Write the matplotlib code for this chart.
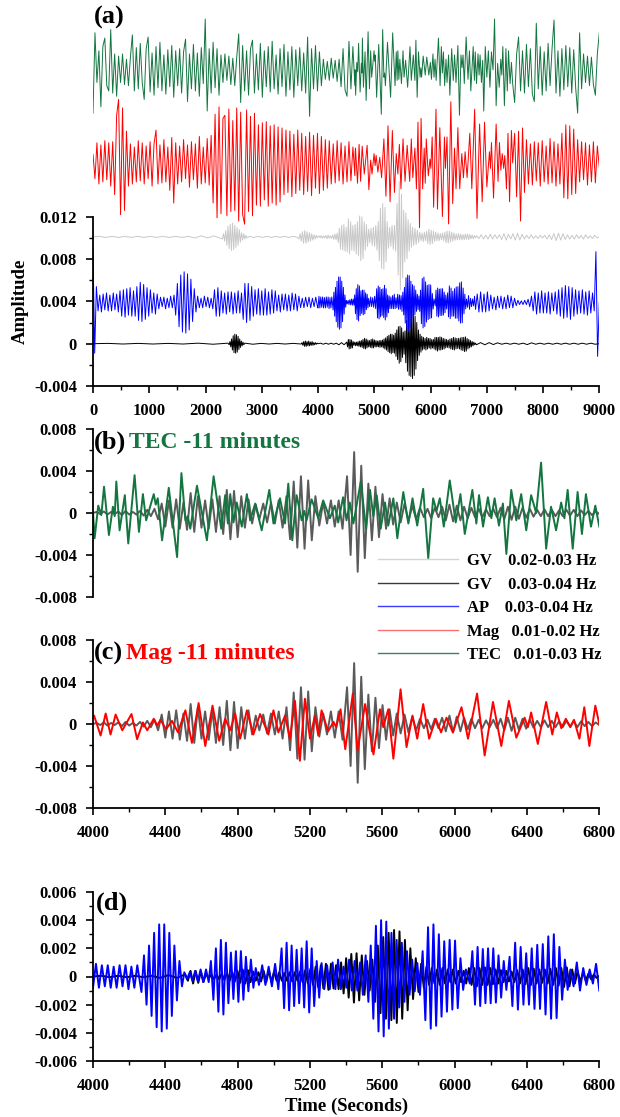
import numpy as np
import matplotlib
matplotlib.use("Agg")
import matplotlib.pyplot as plt
from matplotlib.ticker import MultipleLocator, FixedLocator, FuncFormatter
from matplotlib.lines import Line2D

plt.rcParams['font.family'] = ['Liberation Serif', 'DejaVu Serif']
plt.rcParams['font.weight'] = 'bold'

# ---------------------------------------------------------------- data (units of 1e-3)
# (t, value) extremes, panel (b): TEC shifted -11 minutes
TEC_B = [(4000, 0.0), (4009, -2.4), (4029, 0.7), (4046, -0.2), (4061, 2.5), (4088, -2.1), (4110, 0.6),
         (4120, -0.3), (4129, 3.0), (4147, -1.65), (4176, 1.7), (4195, -2.9), (4230, 3.6), (4254, -1.8),
         (4276, 1.8), (4294, -0.7), (4336, 1.8), (4347, 0.8), (4358, 1.4), (4382, -2.6), (4419, 2.4),
         (4465, -4.2), (4489, 3.8), (4511, -0.7), (4524, -0.3), (4538, -1.5), (4575, 2.6), (4630, -2.6),
         (4667, 3.5), (4709, -1.5), (4731, 1.7), (4746, -1.0), (4759, 1.8), (4777, -0.9), (4795, 1.0),
         (4823, -1.3), (4851, 1.8), (4869, -0.7), (4897, 0.9), (4933, -1.65), (4975, 2.2), (4998, -1.0),
         (5034, 1.4), (5062, -1.0), (5080, 2.8), (5102, -2.6), (5126, 1.7), (5154, -0.7), (5168, 0.2),
         (5181, -0.7), (5209, 1.3), (5246, -0.5), (5273, 1.2), (5310, -0.5), (5337, 0.7), (5356, -0.9),
         (5383, 1.5), (5402, -0.7), (5420, 1.0), (5440, -1.0), (5481, 3.0), (5510, -1.5), (5532, 2.2),
         (5550, -0.3), (5569, 1.7), (5591, -1.5), (5615, 1.0), (5633, -1.2), (5661, 1.4), (5683, -2.4),
         (5716, 2.0), (5744, -1.0), (5767, 1.4), (5793, -1.2), (5826, 2.3), (5854, -4.3), (5881, 1.4),
         (5900, 0.2), (5918, 1.4), (5940, -1.3), (5973, 3.1), (6006, -0.9), (6032, 1.8), (6056, -2.0),
         (6098, 2.2), (6120, -1.0), (6135, 1.7), (6157, -1.3), (6184, 1.5), (6203, -0.5), (6221, 1.4),
         (6245, -1.2), (6267, 0.9), (6286, -3.9), (6313, 2.2), (6341, -0.7), (6368, 1.8), (6396, -1.65),
         (6423, 1.7), (6451, 0.0), (6478, 4.8), (6506, -3.4), (6533, 0.6), (6561, -1.65), (6589, 1.0),
         (6607, -0.5), (6625, 2.2), (6653, -3.4), (6680, 2.0), (6704, -2.0), (6726, 1.8), (6754, -1.3),
         (6778, 0.7), (6800, -1.3)]

# panel (c): Mag shifted -11 minutes
MAG_C = [(4000, 0.6), (4006, 0.8), (4042, -1.1), (4070, 1.0), (4097, -1.0), (4125, 0.9), (4162, -0.6),
         (4213, 0.95), (4244, -1.45), (4276, 0.15), (4300, -0.6), (4336, 0.5), (4355, -0.15), (4373, 0.4),
         (4404, -0.5), (4437, 0.3), (4470, -0.8), (4511, 1.3), (4547, -1.8), (4584, 2.0), (4621, -2.1),
         (4661, 1.75), (4698, -1.6), (4731, 0.5), (4759, -0.6), (4786, 1.0), (4814, -1.4), (4851, 1.3),
         (4887, -1.0), (4924, 0.95), (4970, -1.0), (4998, 1.3), (5025, -0.8), (5062, 0.8), (5089, -1.4),
         (5117, 2.2), (5144, -3.5), (5172, 2.4), (5200, -1.4), (5227, 0.8), (5246, -1.1), (5264, 1.3),
         (5300, -0.7), (5330, 0.2), (5345, -0.3), (5369, 1.4), (5395, -2.4), (5437, 2.9), (5463, -2.5),
         (5505, 1.9), (5551, -2.9), (5587, 1.4), (5605, -0.3), (5633, 1.4), (5661, -3.3), (5701, 3.3),
         (5734, -2.2), (5767, 0.8), (5793, -1.4), (5826, 1.9), (5859, -1.4), (5896, 0.5), (5925, -0.8),
         (5955, 0.6), (5990, -0.8), (6038, 1.6), (6074, -1.4), (6124, 2.9), (6166, -3.0), (6212, 2.1),
         (6258, -2.1), (6300, 2.2), (6341, -1.3), (6387, 0.6), (6405, -0.3), (6423, 1.1), (6460, -1.9),
         (6506, 2.1), (6540, -1.0), (6565, 1.1), (6590, -0.4), (6615, 0.5), (6640, -0.3), (6660, 0.4),
         (6690, -1.4), (6717, 1.6), (6745, -2.1), (6778, 1.75), (6800, 0.0)]

# GV 0.02-0.03 Hz, 4000-6800 s: (start, end, evenly spaced extremes)
GV02_SEGS = [
    (4000, 4340, [0.0, 0.1, -0.1, 0.15, -0.15, 0.1, -0.1, 0.15, -0.2, 0.2, -0.15, 0.1, -0.15, 0.2, -0.25, 0.3, -0.3, 0.4]),
    (4360, 4500, [-0.6, 0.9, -1.3, 1.2, -1.4, 1.3, -1.5, 1.0]),
    (4520, 4700, [-1.6, 1.9, -1.8, 1.6, -1.4, 1.2, -1.5, 1.3, -1.8, 1.6]),
    (4720, 4900, [-2.0, 2.2, -2.5, 2.1, -2.3, 1.6, -1.4, 1.3, -1.0, 0.8]),
    (4920, 5070, [-0.6, 0.9, -0.9, 1.0, -1.0, 1.2, -1.4, 1.6]),
    (5090, 5210, [-2.5, 3.0, -3.3, 3.5, -3.4, 3.1, -2.6]),
    (5230, 5380, [1.6, -1.2, 1.0, -1.0, 1.2, -1.3, 1.2, -1.5]),
    (5405, 5660, [3.5, -4.0, 5.8, -5.6, 4.5, -4.3, 2.8, -2.6, 2.5, -2.3, 1.8, -1.5, 1.4, -1.1]),
    (5680, 5830, [1.0, -0.9, 0.9, -0.8, 0.7, -0.6, 0.5, -0.4]),
    (5850, 6800, [0.4, -0.5, 0.5, -0.4, 0.6, -0.7, 0.8, -0.8, 0.7, -0.7, 0.6, -0.5, 0.5, -0.4, 0.4, -0.4,
                  0.35, -0.3, 0.4, -0.4, 0.5, -0.6, 0.6, -0.65, 0.6, -0.55, 0.5, -0.45, 0.4, -0.35, 0.3, -0.3,
                  0.35, -0.3, 0.3, -0.3, 0.25, -0.3, 0.3, -0.25, 0.3, -0.3, 0.25, -0.2, 0.2, -0.2, 0.15, -0.1]),
]

# GV 0.03-0.04 Hz, 4000-6800 s
GV03_SEGS = [
    (4000, 4510, [0.0, 0.05, -0.05, 0.05, -0.05, 0.05, -0.05, 0.05, -0.1, 0.1, -0.1, 0.15]),
    (4525, 4625, [-0.3, 0.4, -0.5, 0.4, -0.45, 0.35, -0.4, 0.2]),
    (4640, 4900, [-0.15, 0.15, -0.2, 0.15, -0.2, 0.2, -0.25, 0.25, -0.3, 0.3, -0.35, 0.4, -0.45, 0.5, -0.5, 0.45, -0.4, 0.35, -0.3]),
    (4915, 5260, [0.3, -0.35, 0.4, -0.4, 0.45, -0.4, 0.35, -0.3, 0.3, -0.3, 0.25, -0.3, 0.3, -0.35, 0.3, -0.3, 0.35, -0.4,
                  0.45, -0.5, 0.55, -0.6, 0.7, -0.75, 0.8]),
    (5274, 5400, [-0.85, 0.9, -0.95, 0.9, -0.85, 0.8, -0.9, 1.0, -1.2, 1.3]),
    (5414, 5530, [-1.5, 1.6, -1.85, 1.65, -1.7, 1.5, -1.3, 1.1, -1.0]),
    (5545, 5800, [1.2, -1.8, 2.2, -2.6, 2.8, -3.0, 3.1, -3.1, 3.3, -3.3, 3.2, -3.0, 2.6, -2.4, 2.0, -1.6, 1.3, -1.1]),
    (5815, 6050, [0.9, -0.8, 0.7, -0.6, 0.6, -0.5, 0.5, -0.6, 0.6, -0.5, 0.5, -0.4, 0.5, -0.5, 0.4, -0.4, 0.4]),
    (6064, 6300, [-0.5, 0.6, -0.6, 0.6, -0.7, 0.6, -0.6, 0.65, -0.6, 0.6, -0.55, 0.5, -0.5, 0.45, -0.4, 0.4, -0.35]),
    (6315, 6560, [0.35, -0.4, 0.45, -0.5, 0.5, -0.55, 0.6, -0.6, 0.55, -0.5, 0.5, -0.45, 0.5, -0.5, 0.55, -0.6, 0.6]),
    (6575, 6800, [-0.65, 0.6, -0.75, 0.65, -0.7, 0.5, -0.5, 0.4, -0.4, 0.3, -0.3, 0.2, -0.2, 0.15, -0.1, 0.05]),
]

# AP 0.03-0.04 Hz, 4000-6800 s
AP_SEGS = [
    (4000, 4245, [-0.8, 0.9, -0.8, 0.8, -0.7, 0.8, -0.8, 0.7, -0.8, 0.8, -0.7, 0.8, -0.9, 0.7, -0.8, 0.8]),
    (4268, 4492, [-1.1, 1.5, -2.0, 2.2, -2.8, 3.1, -3.6, 3.7, -3.9, 3.7, -3.7, 3.1, -2.8, 2.2, -1.7, 1.1, -0.7]),
    (4505, 4640, [0.3, -0.2, 0.3, -0.3, 0.4, -0.35, 0.5, -0.4, 0.5, -0.4]),
    (4652, 4887, [1.1, -1.65, 2.0, -2.5, 2.6, -2.7, 2.4, -1.9, 1.7, -1.6, 1.8, -1.8, 1.8, -1.65, 1.4, -1.05, 1.2, -0.8]),
    (4900, 5025, [0.6, -0.6, 0.8, -0.6, 0.7, -0.7, 0.9, -0.9]),
    (5043, 5251, [2.0, -2.25, 2.4, -2.4, 2.2, -2.1, 1.9, -1.9, 2.0, -2.2, 2.5, -2.55, 2.0, -2.1, 1.1, -1.5]),
    (5264, 5523, [0.95, -0.9, 0.8, -0.9, 1.0, -0.9, 1.2, -0.9, 0.7, -0.8, 1.2, -1.0, 1.1, -1.0, 1.0, -1.3, 1.5, -1.8]),
    (5536, 5808, [2.2, -3.0, 3.6, -3.9, 4.0, -4.25, 3.9, -3.7, 3.1, -3.0, 2.6, -2.2, 2.4, -1.8, 1.8, -1.3, 1.2, -1.05, 0.95, -1.3]),
    (5823, 6047, [1.8, -3.1, 3.5, -3.7, 3.7, -3.5, 3.0, -2.85, 2.5, -2.5, 2.6, -2.35, 2.55, -2.25, 1.3, -0.95]),
    (6062, 6084, [0.5, -0.5]),
    (6098, 6286, [1.8, -2.0, 2.1, -2.1, 1.95, -1.9, 2.0, -1.9, 2.0, -1.85, 1.5, -1.5, 1.1, -0.95]),
    (6304, 6625, [1.4, -2.1, 2.4, -2.35, 2.1, -2.0, 1.65, -2.0, 2.0, -2.3, 2.25, -2.3, 2.3, -2.7, 2.85, -3.0, 3.0, -2.95,
                  2.1, -1.65, 1.2, -0.95]),
    (6640, 6800, [0.5, -0.7, 1.0, -1.0, 0.6, -0.6, 0.5, -0.5, 0.9, -1.0]),
]

# panel (a) only: parts of the traces outside 4000-6800 s (already in panel-(a) units)
TEC_A_PRE = [-4.1, 3.5, -1.2, 1.8, -3.5, 2.2, 3.0, -1.5, -2.0, 3.8,
             -2.2, 1.5, -2.5, 1.3, -1.2, 1.5, -1.4, 1.0, -1.5, 1.2,
             3.3, -2.0, 2.1, -1.8, 2.5, -1.2, -2.8, 2.0, 3.1, -2.1,
             1.6, -2.4, 2.2, -1.7, 2.6, -2.0, 1.4, -2.3, 1.9, -1.6,
             2.3, -2.6, 1.8, -1.5, 2.0, -2.2, 1.7, 2.9, -3.0, 1.5,
             -1.8, 2.4, -2.0, 1.6, -2.5, 2.1, -1.3, 4.8, -3.9, 2.0,
             -2.2, 2.6, -1.7, 2.0, -2.4, 1.4, -1.2, 1.5, -1.0, 1.3,
             -1.4, 1.1, -1.5, 1.2, 3.4, -3.1, 2.3, -2.0, 1.8, -2.4,
             2.0, 2.8, -2.2, 1.5, -1.9, 2.5, -2.6, 1.8, -1.6, 2.2,
             -2.1, 2.7, -1.8, 1.4, -2.3, 2.0, -1.6, 2.4, -2.5, 1.7,
             -1.9, 2.2, -2.6, 1.9, -1.5, 2.1, -2.0, 1.6, -2.2, 3.1,
             -4.4, 2.0, -1.8, 2.3, -2.0, 1.7, -1.5, 1.0, -0.9, 0.8,
             -1.0, 1.1, -0.8, 0.9, -1.1, 1.0, -1.6, 2.0, -1.9, -2.5,
             2.7, -1.8, 2.2, -1.5]
TEC_A_POST = [-3.1, 1.5, 3.1, -2.0, 1.8, -2.2, 2.4, -1.6, 2.0, -2.3,
              -3.0, 4.4, -1.8, 2.2, -2.4, 1.7, -2.0, 2.5, -1.5, 2.0,
              4.7, -2.2, 1.8, -2.5, 2.0, -1.9, 2.3, -1.6, 2.1, -2.2,
              1.9, -1.7, -4.1, 3.5, -1.8, 1.5, -1.2, 1.3, -1.5, 1.2,
              -1.4, -2.4, 1.5, 3.5]
MAG_A_PRE = [0.8, -1.5, 1.9, -2.0, 1.7, -1.8, 2.1, -1.6, 1.9, -2.2,
             2.0, -3.0, 4.5, 6.0, -4.9, 5.2, -4.5, 3.0, -2.2, 1.8,
             -2.0, 1.5, -1.8, 2.1, -1.7, 1.9, -2.0, 1.6, -1.5, 2.0,
             -2.2, 1.8, 3.1, -2.0, 1.7, -1.9, 2.2, -1.8, 1.5, -2.6,
             2.4, -3.8, 1.9, -2.0, 1.6, -1.8, 2.2, -1.5, 1.7, -2.3,
             2.0, -1.6, 1.8, -2.4, 2.5, -2.0, 1.5, -1.9, 2.3, -2.1,
             2.6, -3.8, 4.6, -5.2, 5.3, -4.8, 4.2, 4.5, -5.0, 5.1,
             -4.6, 4.0, -4.5, 5.2, -5.5, 4.8, -4.9, -5.8, 5.0, -4.6,
             4.4, -5.0, 4.7, -4.0, 3.6, -4.1, 3.8, -3.5, 3.9, -4.1,
             3.5, -3.8, 3.6, -4.0, 3.4, -3.7, 3.3, -3.0, 3.1, -2.8,
             3.0, -3.2, 2.7, -2.9, 3.1, -2.6, 2.8, -3.0, 2.5, -2.7,
             2.9, -3.1, 2.6, -2.4, 2.8, -2.9, 2.5, -2.6, 2.2, -2.4,
             2.1, -2.0, 1.8, -1.9, 2.1, -1.7, 1.9, -2.0, 1.6, -1.8,
             2.0, -1.7, 1.5, -1.2]
MAG_A_POST = [2.8, -3.2, 3.0, -5.5, 3.3, -2.8, 2.2, -2.0, 1.8, -2.1,
              2.0, -1.7, 1.9, -2.2, 2.1, -1.8, 1.6, -2.0, 2.3, -1.9,
              2.0, -2.2, 1.8, -2.0, 2.8, -3.3, 3.6, -3.4, 3.5, -3.0,
              3.2, -2.9, 2.2, -1.8, 2.0, -1.6, 1.9, -2.1, 1.7, -1.8,
              2.0, -1.9, 1.6, -0.4]
GV02_A_PRE = [
    (0, 2150, [0.0, 0.05, -0.05, 0.05, -0.05, 0.05, -0.05, 0.05, -0.05, 0.05, -0.05, 0.05, -0.05, 0.05, -0.05, 0.05, -0.1, 0.1, -0.1, 0.1]),
    (2300, 2740, [-0.2, 0.3, -0.4, 0.6, -0.8, 1.0, -1.1, 1.2, -1.3, 1.3, -1.2, 1.1, -1.0, 0.9, -0.8, 0.7, -0.5, 0.4, -0.3, 0.3, -0.2, 0.15, -0.1]),
    (2780, 3640, [0.05, -0.05, 0.05, -0.05, 0.05, -0.05, 0.05, -0.05, 0.05, -0.05, 0.05, -0.05]),
    (3660, 3990, [-0.2, 0.3, -0.4, 0.5, -0.6, 0.6, -0.6, 0.5, -0.5, 0.4, -0.4, 0.3, -0.3, 0.2, -0.2, 0.15, -0.1]),
]
GV02_A_POST = [(6820, 9000, [0.1, -0.15, 0.2, -0.2, 0.15, -0.2, 0.25, -0.2, 0.2, -0.15, 0.2, -0.25, 0.3, -0.3, 0.25, -0.2,
                             0.3, -0.3, 0.35, -0.3, 0.25, -0.2, 0.15, -0.15, 0.2, -0.15, 0.1, -0.15, 0.15, -0.1, 0.15,
                             -0.2, 0.2, -0.25, 0.3, -0.35, 0.35, -0.3, 0.3, -0.25, 0.2, -0.2, 0.15, -0.2, 0.2, -0.15,
                             0.15, -0.2, 0.2, -0.15, 0.1, -0.15, 0.15, -0.1, 0.0])]
GV03_A_PRE = [
    (0, 2400, [0.0, 0.03, -0.03, 0.03, -0.03, 0.03, -0.03, 0.05, -0.05, 0.05]),
    (2420, 2680, [-0.1, 0.2, -0.3, 0.45, -0.6, 0.75, -0.85, 0.9, -0.9, 0.85, -0.8, 0.7, -0.55, 0.45, -0.35, 0.25, -0.2, 0.15, -0.1]),
    (2700, 3700, [0.05, -0.05, 0.03, -0.03, 0.03, -0.03, 0.03, -0.03]),
    (3715, 3985, [0.1, -0.15, 0.2, -0.25, 0.25, -0.25, 0.2, -0.2, 0.25, -0.2, 0.15, -0.15, 0.2, -0.15, 0.1, -0.1, 0.1, -0.05, 0.05]),
]
GV03_A_POST = [(6815, 9000, [-0.1, 0.1, -0.1, 0.1, -0.08, 0.08, -0.05, 0.05, -0.05, 0.05, -0.05, 0.05, -0.08, 0.08, -0.05,
                             0.05, -0.05, 0.05, -0.05, 0.05, -0.05, 0.05, -0.05, 0.05, -0.05, 0.05, -0.05, 0.05, -0.05, 0.0])]
AP_A_PRE = [5.0, -4.8, 1.5,
            -0.8, 0.7, -0.9, 0.8, -0.7, 0.9, -0.8, 0.7, -0.8, 0.9, -0.7, 0.8, -0.9,
            1.1, -1.3, 1.2, -1.4, 1.3, -1.2, 1.4, -1.3, 1.1,
            -1.3, 1.5, -1.7, 1.9, -1.8, 1.7, -1.6, 1.4, -1.3, 1.2,
            -1.0, 0.9, -1.1, 0.8,
            -0.6, 0.5, -0.4, 0.5, -0.6, 0.4, -0.5, 0.6, -0.5, 0.7,
            -1.2, 1.8, -2.3, 2.6, -2.8, 2.9, -2.9, 2.7, -2.6, 2.2, -1.8, 1.3, -0.9, 0.6,
            -0.5, 0.4, -0.5, 0.6, -0.4, 0.5, -0.5, 0.4, -0.6,
            1.2, -1.3, 1.4, -1.3, 1.1,
            -1.0, 0.9, -1.1, 1.0, -0.9, 1.0, -1.1, 0.9, -1.0, 1.1, -1.0, 0.9,
            -1.6, 1.8, -1.9, 1.8, -1.7, 1.5, -1.3,
            1.2, -1.1, 1.3, -1.2, 1.1, -1.2, 1.3, -1.2, 1.0, -1.1, 1.2, -1.0, 1.1,
            -0.8, 0.7, -0.9, 0.8, -0.7, 0.8, -0.8, 0.7, -0.8, 0.9, -0.7, 0.8, -0.8, 0.6,
            -0.5, 0.4, -0.5, 0.5, -0.4, 0.5, -0.5, 0.4, -0.4, 0.5, -0.4]
AP_A_POST = [0.8, -0.9, 1.0, -0.9, 0.8, -0.9, 1.0, -0.8, 0.7,
             -0.6, 0.5, -0.7, 0.6, -0.5, 0.6, -0.6, 0.5, -0.6, 0.7, -0.5, 0.6, -0.5, 0.4,
             -0.3, 0.2, -0.2, 0.15, -0.2, 0.2, -0.2, 0.3, -0.4,
             0.6, -0.8, 1.0, -1.1, 0.9, -1.0, 1.1, -1.0, 0.9, -1.0, 1.0, -1.1, 0.9, -0.8, 1.0, -1.1, 1.2, -1.3,
             1.4, -1.5, 1.6, -1.4, 1.5, -1.6, 1.4, -1.3, 1.2, -1.1,
             1.1, -1.0, 1.2, -1.1, 1.0, -1.2, 1.1, -1.0, 0.9,
             -0.8, 4.8, -5.1, 0.0]

# panel (a) stacking offsets / gains (1e-3)
OFFSET_A = {'TEC': 25.9, 'Mag': 17.1, 'GV02': 10.1, 'AP': 3.9, 'GV03': 0.0}
GAIN_A = {'TEC': 1.0, 'Mag': 1.75, 'GV02': 0.9, 'AP': 0.65, 'GV03': 1.0}
SHIFT_S = 660  # 11 minutes

LEGEND_LABELS = ["GV    0.02-0.03 Hz", "GV    0.03-0.04 Hz", "AP    0.03-0.04 Hz",
                 "Mag   0.01-0.02 Hz", "TEC   0.01-0.03 Hz"]

# ---------------------------------------------------------------- helpers
def build(segs):
    ts = [np.linspace(a, b, len(v)) for a, b, v in segs]
    vs = [np.asarray(v, float) for a, b, v in segs]
    return np.concatenate(ts), np.concatenate(vs)

def from_pairs(p):
    a = np.asarray(p, float)
    return a[:, 0], a[:, 1]

def even(t0, t1, vals):
    return np.linspace(t0, t1, len(vals)), np.asarray(vals, float)

tec_t, tec_v = from_pairs(TEC_B)
mag_t, mag_v = from_pairs(MAG_C)
gv02_t, gv02_v = build(GV02_SEGS)
gv03_t, gv03_v = build(GV03_SEGS)
ap_t, ap_v = build(AP_SEGS)

# full-length traces for panel (a)
t1, v1 = even(0, 4655, TEC_A_PRE)
t3, v3 = even(7495, 9000, TEC_A_POST)
tecA_t = np.concatenate([t1, tec_t + SHIFT_S, t3])
tecA_v = np.concatenate([v1, tec_v * GAIN_A['TEC'], v3])
t1, v1 = even(0, 4655, MAG_A_PRE)
t3, v3 = even(7495, 9000, MAG_A_POST)
magA_t = np.concatenate([t1, mag_t + SHIFT_S, t3])
magA_v = np.concatenate([v1, mag_v * GAIN_A['Mag'], v3])
t1, v1 = build(GV02_A_PRE)
t3, v3 = build(GV02_A_POST)
gv02A_t = np.concatenate([t1, gv02_t, t3])
gv02A_v = np.concatenate([v1, gv02_v * GAIN_A['GV02'], v3])
t1, v1 = build(GV03_A_PRE)
t3, v3 = build(GV03_A_POST)
gv03A_t = np.concatenate([t1, gv03_t, t3])
gv03A_v = np.concatenate([v1, gv03_v * GAIN_A['GV03'], v3])
t1, v1 = even(0, 3990, AP_A_PRE)
t3, v3 = even(6830, 9000, AP_A_POST)
apA_t = np.concatenate([t1, ap_t, t3])
apA_v = np.concatenate([v1, ap_v * GAIN_A['AP'], v3])

# ---------------------------------------------------------------- style
GREEN = '#137540'
RED = '#ff0000'
BLUE = '#0000ff'
LGRAY = '#c8c8c8'
DGRAY = '#5a5a5a'
BLACK = '#000000'
FS_TICK = 12
FS_PANEL = 17
FS_LETTER = 19
W, H = 620, 1117

fig = plt.figure(figsize=(W / 100, H / 100), dpi=100)

def add_axes(top, bottom):
    return fig.add_axes([93 / W, 1 - bottom / H, (599.3 - 93) / W, (bottom - top) / H])

def fmt(v, pos):
    return '0' if abs(v) < 1e-12 else f'{v:.3f}'

def style(ax, xlim, ylim, ymaj, ymin, xmaj=None, xmin=None, show_x=True):
    ax.set_xlim(*xlim)
    ax.set_ylim(*ylim)
    for s in ('top', 'right'):
        ax.spines[s].set_visible(False)
    for s in ('left', 'bottom'):
        ax.spines[s].set_linewidth(1.3)
    ax.yaxis.set_major_locator(FixedLocator(ymaj))
    ax.yaxis.set_minor_locator(FixedLocator(ymin))
    ax.yaxis.set_major_formatter(FuncFormatter(fmt))
    ax.tick_params(axis='both', which='major', direction='out', length=5, width=1.2,
                   labelsize=FS_TICK)
    ax.tick_params(axis='both', which='minor', direction='out', length=2.8, width=1.0)
    ax.tick_params(axis='y', which='major', pad=6.5)
    ax.tick_params(axis='x', which='major', pad=7)
    if show_x:
        ax.xaxis.set_major_locator(MultipleLocator(xmaj))
        ax.xaxis.set_minor_locator(MultipleLocator(xmin))
    else:
        ax.spines['bottom'].set_visible(False)
        ax.tick_params(axis='x', which='both', bottom=False, labelbottom=False)
    for lab in ax.get_xticklabels() + ax.get_yticklabels():
        lab.set_fontweight('bold')

S = 1e-3

# ---- panel (a)
axa = add_axes(8, 386)
lw_a = 0.7
axa.plot(gv02A_t, (gv02A_v + OFFSET_A['GV02']) * S, color=LGRAY, lw=lw_a)
axa.plot(gv03A_t, (gv03A_v + OFFSET_A['GV03']) * S, color=BLACK, lw=lw_a)
axa.plot(apA_t, (apA_v + OFFSET_A['AP']) * S, color=BLUE, lw=lw_a)
axa.plot(magA_t, (magA_v + OFFSET_A['Mag']) * S, color=RED, lw=lw_a)
axa.plot(tecA_t, (tecA_v + OFFSET_A['TEC']) * S, color=GREEN, lw=lw_a)
style(axa, (0, 9000), (-0.004, -0.004 + (386 - 8) / 10575),
      [-0.004, 0, 0.004, 0.008, 0.012], [-0.002, 0.002, 0.006, 0.010], 1000, 500)
axa.spines['left'].set_bounds(-0.004, 0.012)
axa.set_ylabel('Amplitude', fontsize=13.5, fontweight='bold', labelpad=4)
axa.yaxis.set_label_coords(-0.127, (0.004 + 0.004) / (0.004 + 0.03175))

# ---- panel (b)
axb = add_axes(429, 597)
axb.plot(gv02_t, gv02_v * S, color=DGRAY, lw=1.4)
axb.plot(tec_t, tec_v * S, color=GREEN, lw=1.4)
style(axb, (4000, 6800), (-0.008, 0.008), [-0.008, -0.004, 0, 0.004, 0.008],
      [-0.006, -0.002, 0.002, 0.006], show_x=False)

# ---- panel (c)
axc = add_axes(640, 808)
axc.plot(gv02_t, gv02_v * S, color=DGRAY, lw=1.4)
axc.plot(mag_t, mag_v * S, color=RED, lw=1.4)
style(axc, (4000, 6800), (-0.008, 0.008), [-0.008, -0.004, 0, 0.004, 0.008],
      [-0.006, -0.002, 0.002, 0.006], 400, 200)

# ---- panel (d)
axd = add_axes(892, 1061)
axd.plot(gv03_t, gv03_v * S, color=BLACK, lw=1.4)
axd.plot(ap_t, ap_v * S, color=BLUE, lw=1.4)
style(axd, (4000, 6800), (-0.006, 0.006), [-0.006, -0.004, -0.002, 0, 0.002, 0.004, 0.006],
      [-0.005, -0.003, -0.001, 0.001, 0.003, 0.005], 400, 200)
axd.set_xlabel('Time (Seconds)', fontsize=13.5, fontweight='bold', labelpad=3)

# ---- panel labels
def ftext(x, y, s, color='black', size=FS_PANEL):
    fig.text(x / W, 1 - y / H, s, color=color, fontsize=size, fontweight='bold',
             ha='left', va='center')

ftext(94, 17, '(a)', size=FS_LETTER)
ftext(94, 442, '(b)', size=FS_LETTER)
ftext(129, 442, 'TEC -11 minutes', GREEN)
ftext(94, 653, '(c)', size=FS_LETTER)
ftext(126, 653, 'Mag -11 minutes', RED)
ftext(96, 903, '(d)', size=FS_LETTER)

# ---- legend
handles = [Line2D([], [], color='#d4d4d4', lw=1.0),
           Line2D([], [], color='#3a3a3a', lw=1.0),
           Line2D([], [], color='#3b3bff', lw=1.0),
           Line2D([], [], color='#ff7070', lw=1.0),
           Line2D([], [], color='#3f8060', lw=1.0)]
leg = fig.legend(handles, LEGEND_LABELS, loc='upper left',
                 bbox_to_anchor=(378 / W, 1 - 553 / H), frameon=False,
                 prop={'family': 'Liberation Serif', 'weight': 'bold', 'size': 12},
                 handlelength=4.8, handletextpad=0.55, labelspacing=0.45,
                 borderpad=0, borderaxespad=0)

fig.savefig('out.png', dpi=100)
